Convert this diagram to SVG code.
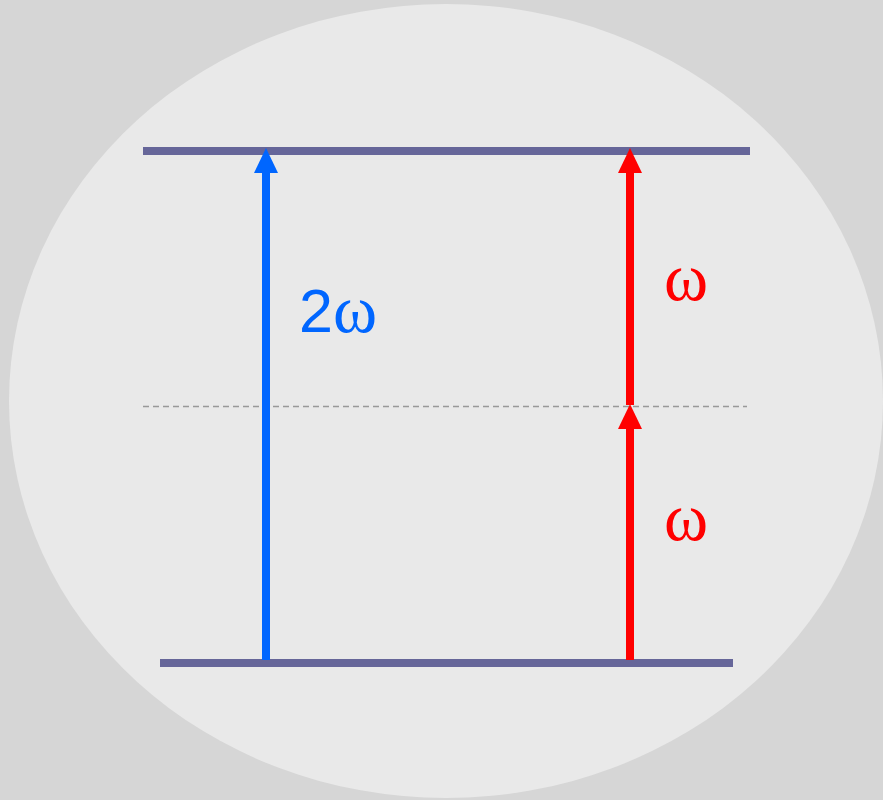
<svg xmlns="http://www.w3.org/2000/svg" width="883" height="800" viewBox="0 0 883 800">
<style>
.level{stroke:#666699;stroke-width:8;fill:none}
.blue{stroke:#0066ff;stroke-width:8;fill:none}
.red{stroke:#ff0000;stroke-width:8;fill:none}
.om{font-family:"Liberation Serif","Times New Roman",serif;font-size:67px}
</style>
<defs>
<path id="head" d="M0,0 L12,25 L-12,25 Z"/>
</defs>
<rect width="883" height="800" fill="#d6d6d6"/>
<ellipse cx="446" cy="401" rx="437" ry="397" fill="#e9e9e9"/>
<g id="upper-level"><line class="level" x1="143" y1="151" x2="750" y2="151"/></g>
<g id="lower-level"><line class="level" x1="160" y1="663" x2="733" y2="663"/></g>
<g id="virtual-level"><line x1="143" y1="406.5" x2="747" y2="406.5" stroke="#999999" stroke-width="1.5" stroke-dasharray="6,4"/></g>
<g id="connectors">
<line class="blue" x1="266" y1="660" x2="266" y2="172"/>
<use href="#head" x="266" y="148" fill="#0066ff"/>
<line class="red" x1="630" y1="660" x2="630" y2="427"/>
<use href="#head" x="630" y="404" fill="#ff0000"/>
<line class="red" x1="630" y1="405" x2="630" y2="172"/>
<use href="#head" x="630" y="148" fill="#ff0000"/>
</g>
<g id="label-2w"><text x="299" y="332" fill="#0066ff"><tspan font-family="Liberation Sans, Arial, sans-serif" font-size="61">2</tspan><tspan class="om">ω</tspan></text></g>
<g id="label-w1"><text class="om" x="664" y="300" fill="#ff0000">ω</text></g>
<g id="label-w2"><text class="om" x="664" y="540" fill="#ff0000">ω</text></g>
</svg>
